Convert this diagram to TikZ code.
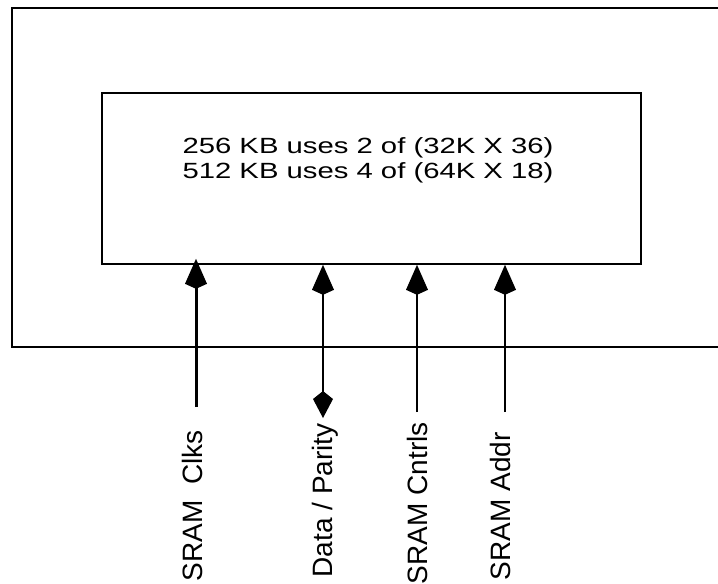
\documentclass[tikz,border=0pt]{standalone}
\usepackage{fontspec}
\setmainfont{Liberation Sans}
\usetikzlibrary{arrows.meta,positioning}
\newcommand{\wide}[1]{\scalebox{1.33}[1]{#1}}
\tikzset{
  outerframe/.style={
    draw=black,
    line width=1.6pt
  },
  memblock/.style={
    rectangle,
    draw=black,
    line width=1.6pt,
    inner sep=0pt,
    minimum width=539pt,
    minimum height=171pt
  },
  sizetext/.style={
    align=left,
    inner sep=0pt,
    font=\fontsize{22}{25}\selectfont
  },
  signal/.style={
    -{Kite[length=30pt,width=22pt,inset=5pt]},
    line width=1.5pt,
    draw=black
  },
  clksignal/.style={
    signal,
    line width=3pt
  },
  bussignal/.style={
    signal,
    {Kite[length=27pt,width=20pt,inset=8pt]}-{Kite[length=30pt,width=22pt,inset=5pt]}
  },
  siglabel/.style={
    rotate=90,
    anchor=base east,
    inner sep=0pt,
    font=\fontsize{28}{30}\selectfont
  }
}

\begin{document}
\begin{tikzpicture}[x=1pt, y=-1pt]
  \useasboundingbox (0,0) rectangle (718,584);
  % board outline, open to the right
  \draw[outerframe] (718,8) -- (12,8) -- (12,347) -- (718,347);
  \node[memblock] (mem) at (371.5,178.5) {};
  \node[sizetext] (sizes) at (368,160) {\wide{256 KB uses 2 of (32K X 36)}\\\wide{512 KB uses 4 of (64K X 18)}};

  \coordinate (clksend) at (196,407);
  \coordinate (dataend) at (323,418);
  \coordinate (cntrlend) at (417,412);
  \coordinate (addrend) at (505,412);

  \node[siglabel] (clks) at (202,430) {SRAM\ \ Clks};
  \node[siglabel] (data) at (332,423) {Data / Parity};
  \node[siglabel] (cntrls) at (427,422) {SRAM Cntrls};
  \node[siglabel] (addr) at (510,432) {SRAM Addr};

  \draw[clksignal, shorten >=-6pt] (clksend) -- (clksend |- mem.south);
  \draw[bussignal] (dataend) -- (dataend |- mem.south);
  \draw[signal] (cntrlend) -- (cntrlend |- mem.south);
  \draw[signal] (addrend) -- (addrend |- mem.south);
\end{tikzpicture}
\end{document}
